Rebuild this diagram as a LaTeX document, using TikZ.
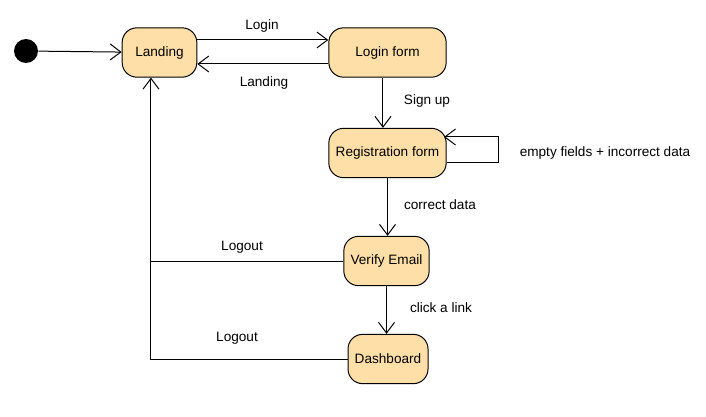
\documentclass[tikz,border=0pt]{standalone}
\usepackage{fontspec}
\setmainfont{Liberation Sans}
\usetikzlibrary{arrows.meta}

\definecolor{statefill}{HTML}{FFDFA8}
\tikzset{
    state/.style={draw, fill=statefill, rounded corners=11pt, minimum height=37pt, align=center, line width=0.75pt},
    trans/.style={-{Straight Barb[length=8pt, width=12pt]}, line width=0.75pt},
    lbl/.style={inner sep=1pt}
}

\begin{document}
\begin{tikzpicture}[x=0.75pt, y=-0.75pt, font=\fontsize{10.2}{12}\selectfont]
    \useasboundingbox (0,0) rectangle (706,417);

    % states
    \node[circle, fill=black, minimum size=18pt, inner sep=0pt] (init) at (26,51) {};
    \node[state, minimum width=56pt] (landing) at (159.5,52.5) {Landing};
    \node[state, minimum width=88pt] (login) at (387.5,52.5) {Login form};
    \node[state, minimum width=88pt, inner xsep=2pt] (reg) at (387.5,153) {Registration form};
    \node[state, minimum width=64pt, inner xsep=2pt] (verify) at (386.5,261) {Verify Email};
    \node[state, minimum width=60pt, inner xsep=2pt] (dash) at (388,359) {Dashboard};

    % transitions
    \draw[trans] (init) -- (landing);
    \draw[trans] ([yshift=9.4pt]landing.east) -- ([yshift=9.4pt]login.west);
    \draw[trans] ([yshift=-8.6pt]login.west) -- ([yshift=-8.6pt]landing.east);
    \draw[trans] ([xshift=-3.4pt]login.south) -- ([xshift=-3.4pt]reg.north);
    \draw[trans] ([yshift=-7pt]reg.east) -- ++(52,0) |- ([yshift=12pt, xshift=-2pt]reg.east);
    \draw[trans] (reg.south) -- (reg.south |- verify.north);
    \draw[trans] (verify.south) -- (verify.south |- dash.north);
    \draw[trans] (verify.west) -| ([xshift=-6.4pt]landing.south);
    \draw[line width=0.75pt] (dash.west) -| ([xshift=-6.4pt]landing.south |- verify.west);

    % labels
    \node[lbl] (lLogin) at (262,26) {Login};
    \node[lbl] (lLanding) at (264,83) {Landing};
    \node[lbl] (lSignup) at (427,101) {Sign up};
    \node[lbl] (lLoop) at (605,153) {empty fields + incorrect data};
    \node[lbl] (lCorrect) at (440,205) {correct data};
    \node[lbl] (lLink) at (441,308) {click a link};
    \node[lbl] (lOut1) at (242,247) {Logout};
    \node[lbl] (lOut2) at (237,338) {Logout};
\end{tikzpicture}
\end{document}
